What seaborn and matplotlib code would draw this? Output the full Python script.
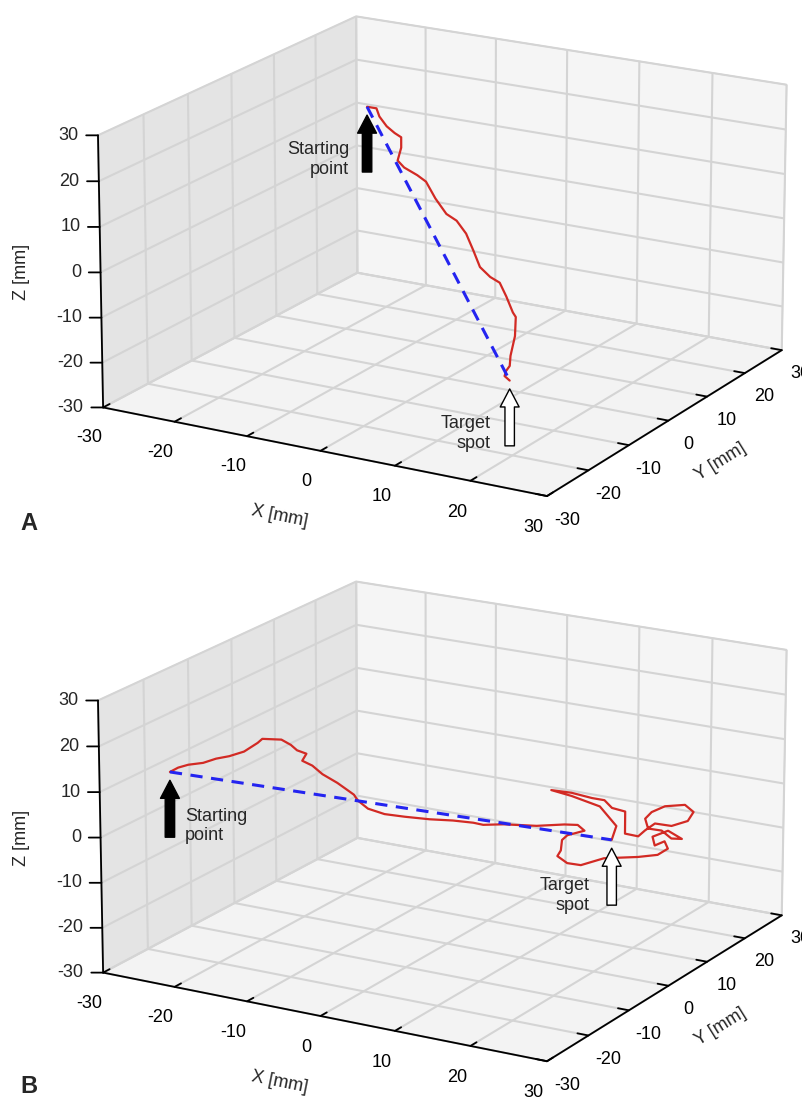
import numpy as np
import pandas as pd
import seaborn as sns
import matplotlib
matplotlib.use("Agg")
import matplotlib.pyplot as plt
from mpl_toolkits.mplot3d import proj3d

# ---------------- data (mm) ----------------
ticks = [-30, -20, -10, 0, 10, 20, 30]
tick_labels = ["-30", "-20", "-10", "0", "10", "20", "30"]

# Panel A: needle trajectory
a_x = [-11.0, -9.7, -9.3, -8.3, -7.2, -6.3, -6.3, -6.8, -5.9, -4.1, -2.9, -1.6, -0.1,
       1.3, 2.6, 3.6, 4.5, 5.9, 7.2, 8.1, 9.0, 9.4, 9.3, 8.7, 8.6, 8.1, 7.9, 8.6]
a_y = [0.0] * len(a_x)
a_z = [27.7, 27.7, 26.0, 24.1, 22.9, 22.2, 19.9, 16.9, 15.6, 14.4, 13.3, 9.9, 6.9,
       5.8, 3.3, -0.2, -3.6, -5.4, -6.3, -9.1, -12.4, -13.3, -17.6, -22.2, -24.5, -25.8, -27.0, -27.8]
a_start = [-11.0, 0.0, 27.7]
a_target = [8.6, 0.0, -27.8]

# Panel B: needle trajectory
b_x = [-20.2, -19.5, -18.6, -17.3, -16.2, -15.0, -13.7, -12.5, -12.1, -10.4, -9.6, -9.0, -8.2,
       -8.6, -7.7, -6.8, -5.5, -4.6, -4.0, -3.7, -2.8, -1.3, 0.5, 2.7, 4.8, 6.6, 7.5, 9.3,
       12.3, 14.8, 16.0, 16.6, 15.1, 14.6, 14.5, 14.2, 15.1, 16.3, 18.4, 21.5, 23.3, 24.2,
       23.9, 23.0, 22.8, 24.2, 25.5, 24.5, 23.6, 22.4, 22.1, 22.7, 23.9, 25.7, 26.5, 26.0,
       24.5, 23.0, 22.1, 21.5, 20.3, 20.3, 19.1, 18.4, 17.3, 15.4, 13.6, 15.4, 18.0, 19.5, 19.1]
b_y = [-30.0, -29.3, -28.5, -27.3, -26.2, -25.2, -24.0, -22.9, -22.5, -21.0, -20.2, -19.8, -19.0,
       -19.3, -18.5, -17.7, -16.5, -15.7, -15.2, -14.8, -14.0, -12.7, -11.0, -9.0, -7.1, -5.4, -4.6, -2.9,
       -0.2, 2.1, 3.2, 3.8, 2.3, 1.9, 1.8, 1.5, 2.3, 3.5, 5.4, 8.2, 9.8, 10.7,
       10.4, 9.6, 9.4, 10.7, 11.8, 11.0, 10.2, 9.0, 8.8, 9.3, 10.4, 12.1, 12.8, 12.3,
       11.0, 9.6, 8.8, 8.2, 7.1, 7.1, 6.0, 5.4, 4.3, 2.7, 1.0, 2.7, 5.0, 6.4, 6.0]
b_z = [17.2, 18.0, 18.5, 18.7, 19.4, 19.8, 20.6, 22.3, 23.1, 22.7, 21.4, 20.2, 19.3,
       17.8, 16.6, 14.6, 12.5, 10.8, 9.7, 8.3, 6.4, 5.0, 4.1, 3.2, 2.6, 1.8, 1.2, 1.0,
       0.2, 0.1, -0.2, -1.6, -2.3, -3.3, -5.6, -6.8, -8.5, -9.2, -8.0, -8.2, -8.0, -6.8,
       -5.1, -5.9, -3.9, -2.8, -4.8, -4.6, -2.7, -2.0, 0.2, 1.6, 2.7, 2.7, 1.0, -0.9,
       -1.8, -1.0, -2.4, -3.6, -2.8, 2.1, 3.1, 4.9, 5.6, 7.0, 7.9, 6.3, 3.6, -1.0, -4.0]
b_start = [-20.2, -30.0, 17.2]
b_target = [19.1, 6.0, -4.0]

# ---------------- style ----------------
sns.set_style("white")
plt.rcParams["font.family"] = ["Liberation Sans", "DejaVu Sans"]
plt.rcParams["grid.color"] = "#d4d4d4"
plt.rcParams["grid.linewidth"] = 1.5
plt.rcParams["grid.linestyle"] = "-"

RED = "#d22a24"
BLUE = "#2424f0"
FS = 13

fig = plt.figure(figsize=(8.03, 11.06), dpi=100)
fig.patch.set_facecolor("white")


def style_axes(ax):
    ax.set_proj_type("persp", focal_length=2.0)
    ax.view_init(elev=18, azim=-60)
    ax.set_box_aspect((1.75, 1.71, 0.98), zoom=1.334)
    ax.set_xlim(-30, 30)
    ax.set_ylim(-30, 30)
    ax.set_zlim(-30, 30)
    for axis, col in ((ax.xaxis, (0.945, 0.945, 0.945, 1.0)),
                      (ax.yaxis, (0.962, 0.962, 0.962, 1.0)),
                      (ax.zaxis, (0.952, 0.952, 0.952, 1.0))):
        axis.set_pane_color(col)
        axis.pane.set_edgecolor("#d4d4d4")
        axis.line.set_color("black")
        axis.line.set_linewidth(1.3)
        axis._axinfo["tick"]["inward_factor"] = 0.0
        axis._axinfo["tick"]["outward_factor"] = 0.3
        axis._axinfo["tick"]["linewidth"] = {True: 1.3, False: 1.0}
        axis._axinfo["tick"]["color"] = "black"
    ax.zaxis._axinfo["tick"]["outward_factor"] = 0.0
    ax.xaxis.set_pane_color((0.895, 0.895, 0.895, 1.0))
    ax.set_xticks(ticks)
    ax.set_yticks(ticks)
    ax.set_zticks(ticks)
    ax.set_xticklabels(tick_labels, fontsize=FS)
    ax.set_yticklabels(tick_labels, fontsize=FS)
    ax.set_zticklabels([""] * len(ticks))
    ax.tick_params(axis="both", which="major", pad=3, colors="black")
    ax.yaxis.set_tick_params(pad=1)
    ax.set_xlabel("X [mm]", fontsize=FS, labelpad=11)
    ax.set_ylabel("Y [mm]", fontsize=FS, labelpad=3)
    ax.set_zlabel("")
    ax.zaxis.set_ticks_position("lower")
    ax.grid(True)


def draw_panel(ax, xs, ys, zs, start, target):
    df = pd.DataFrame({"x": xs, "y": ys, "z": zs})
    ax.plot(df["x"], df["y"], df["z"], color=RED, lw=1.6, zorder=3)
    ax.plot([start[0], target[0]], [start[1], target[1]], [start[2], target[2]],
            color=BLUE, lw=2.2, ls=(0, (4, 2.8)), zorder=4)


axA = fig.add_axes([-0.0125, 0.5217, 1.12, 0.50], projection="3d")
axB = fig.add_axes([-0.0125, 0.0107, 1.12, 0.50], projection="3d")
for ax in (axA, axB):
    ax.set_facecolor("none")
    style_axes(ax)

draw_panel(axA, a_x, a_y, a_z, a_start, a_target)
draw_panel(axB, b_x, b_y, b_z, b_start, b_target)

fig.canvas.draw()


def proj(ax, p):
    x2, y2, _ = proj3d.proj_transform(p[0], p[1], p[2], ax.get_proj())
    return (x2, y2)


def z_ticks(ax):
    # horizontal ticks pointing left from the vertical z axis, labels level with them
    for t, lab in zip(ticks, tick_labels):
        p = proj(ax, (-30, -30, t))
        ax.annotate("", xy=p, xycoords="data", xytext=(-8.5, 0), textcoords="offset points",
                    annotation_clip=False,
                    arrowprops=dict(arrowstyle="-", color="black", lw=1.3, shrinkA=0, shrinkB=0))
        ax.annotate(lab, xy=p, xycoords="data", xytext=(-14, 0), textcoords="offset points",
                    annotation_clip=False, ha="right", va="center", fontsize=FS)


def arrow(ax, p, filled):
    ax.annotate("", xy=proj(ax, p), xycoords="data", xytext=(0, -47), textcoords="offset points",
                annotation_clip=False,
                arrowprops=dict(arrowstyle="simple,head_length=0.65,head_width=0.68,tail_width=0.34",
                                mutation_scale=20, fc="black" if filled else "white",
                                ec="black", lw=1.0, shrinkA=0, shrinkB=6))


def label(ax, p, text, dx, dy, ha):
    ax.annotate(text, xy=proj(ax, p), xycoords="data", xytext=(dx, dy), textcoords="offset points",
                annotation_clip=False, ha=ha, va="center", fontsize=FS, linespacing=1.2)


for ax in (axA, axB):
    z_ticks(ax)

arrow(axA, a_start, True)
label(axA, a_start, "Starting\npoint", -13, -38, "right")
arrow(axA, a_target, False)
label(axA, a_target, "Target\nspot", -14, -38, "right")

arrow(axB, b_start, True)
label(axB, b_start, "Starting\npoint", 11, -39, "left")
arrow(axB, b_target, False)
label(axB, b_target, "Target\nspot", -16, -40, "right")

# z-axis titles (reading bottom-to-top as in the original)
fig.text(22 / 803, 1 - 272 / 1106, "Z [mm]", rotation=90, fontsize=FS, ha="center", va="center")
fig.text(22 / 803, 1 - 838 / 1106, "Z [mm]", rotation=90, fontsize=FS, ha="center", va="center")

fig.text(0.025, 0.527, "A", fontsize=17, fontweight="bold", va="center")
fig.text(0.025, 0.018, "B", fontsize=17, fontweight="bold", va="center")

fig.savefig("out.png", dpi=100, facecolor="white")
